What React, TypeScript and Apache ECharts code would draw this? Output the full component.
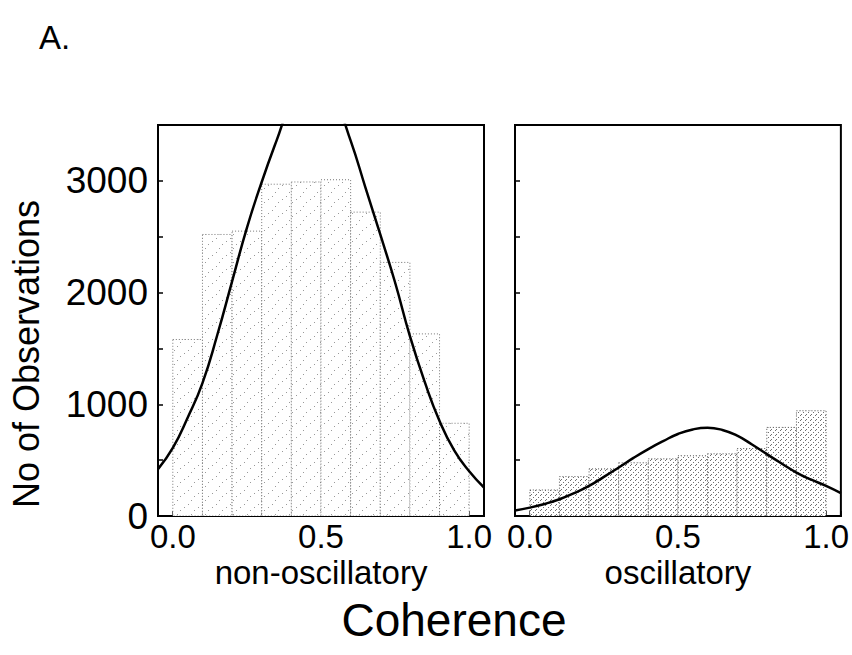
import React, { useEffect, useRef } from "react";
import * as echarts from "echarts";

// ---- data ----
const binEdges = [0, 0.1, 0.2, 0.3, 0.4, 0.5, 0.6, 0.7, 0.8, 0.9, 1.0];
const nonOscCounts = [1580, 2520, 2550, 2970, 2990, 3010, 2720, 2270, 1630, 830];
const oscCounts = [233, 353, 422, 476, 512, 539, 557, 604, 793, 942];

const fitX = [-0.05, 0, 0.05, 0.1, 0.15, 0.2, 0.25, 0.3, 0.35, 0.4, 0.45, 0.5, 0.55, 0.6, 0.65, 0.7, 0.75, 0.8, 0.85, 0.9, 0.95, 1.0, 1.05];
const nonOscFit = [420, 610, 880, 1190, 1620, 2100, 2580, 2990, 3360, 3700, 3880, 3880, 3700, 3360, 2940, 2520, 2090, 1610, 1200, 850, 585, 400, 255];
const oscFit = [50, 75, 108, 150, 205, 269, 350, 434, 520, 599, 670, 734, 775, 790, 770, 719, 640, 554, 470, 389, 325, 269, 204];

const xTickValues = [0, 0.5, 1.0];
const xTickLabels = ["0.0", "0.5", "1.0"];
const yTickValues = [0, 1000, 2000, 3000];
const yTickLabels = ["0", "1000", "2000", "3000"];

const panelNames = ["non-oscillatory", "oscillatory"];
const FONT = "'Liberation Sans', Arial, sans-serif";

function makePattern(size: number, dots: number[][], color: string): string {
  const c = document.createElement("canvas");
  c.width = size;
  c.height = size;
  const ctx = c.getContext("2d")!;
  ctx.fillStyle = "#ffffff";
  ctx.fillRect(0, 0, size, size);
  ctx.fillStyle = color;
  dots.forEach(([x, y]) => ctx.fillRect(x, y, 1, 1));
  return c.toDataURL();
}

export default function App() {
  const ref = useRef<HTMLDivElement>(null);
  useEffect(() => {
    if (!ref.current) return;
    const chart = echarts.init(ref.current, undefined, { renderer: "svg" });

    const sparse = makePattern(14, [[2, 3], [9, 10], [6, 0], [12, 6]], "#9a9a9a");
    const dense = makePattern(5, [[0, 0], [3, 2], [1, 4]], "#707070");

    const binData = (counts: number[]) =>
      counts.map((c, i) => [binEdges[i], binEdges[i + 1], c]);

    const makeRender = (img: string, stroke: string) => (params: any, api: any) => {
      const x0 = api.value(0);
      const x1 = api.value(1);
      const v = api.value(2);
      const p0 = api.coord([x0, v]);
      const p1 = api.coord([x1, 0]);
      return {
        type: "rect",
        shape: { x: p0[0], y: p0[1], width: p1[0] - p0[0], height: p1[1] - p0[1] },
        style: {
          fill: { image: img, repeat: "repeat" },
          stroke,
          lineWidth: 1,
          lineDash: [1, 2],
        },
      };
    };

    const xLabelFmt = (v: number) => {
      const i = xTickValues.findIndex((t) => Math.abs(t - v) < 1e-6);
      return i >= 0 ? xTickLabels[i] : "";
    };
    const yLabelFmt = (v: number) => {
      const i = yTickValues.findIndex((t) => Math.abs(t - v) < 1e-6);
      return i >= 0 ? yTickLabels[i] : "";
    };

    const grids = [
      { left: 158, top: 125, width: 326, height: 391 },
      { left: 515, top: 125, width: 326, height: 391 },
    ];

    const xAxes = [0, 1].map((i) => ({
      type: "value",
      gridIndex: i,
      min: -0.05,
      max: 1.05,
      interval: 0.05,
      name: panelNames[i],
      nameLocation: "middle",
      nameGap: 40,
      nameMoveOverlap: false,
      nameTextStyle: { fontFamily: FONT, fontSize: 33, color: "#000", verticalAlign: "top" },
      axisLine: { show: true, onZero: false, lineStyle: { color: "#000", width: 2 } },
      axisTick: { show: true, inside: true, length: 5, lineStyle: { color: "#000", width: 1.5 } },
      axisLabel: { show: true, formatter: xLabelFmt, fontFamily: FONT, fontSize: 33, color: "#000", margin: 4, showMinLabel: true, showMaxLabel: true },
      splitLine: { show: false },
    }));

    const yAxes = [0, 1].map((i) => ({
      type: "value",
      gridIndex: i,
      min: 0,
      max: 3500,
      interval: 500,
      axisLine: { show: true, onZero: false, lineStyle: { color: "#000", width: 2 } },
      axisTick: { show: true, inside: true, length: 5, lineStyle: { color: "#000", width: 1.5 } },
      axisLabel: { show: i === 0, formatter: yLabelFmt, fontFamily: FONT, fontSize: 37, color: "#000", margin: 10 },
      splitLine: { show: false },
    }));

    const fitLine = (vals: number[]) => fitX.map((x, i) => [x, vals[i]]);

    chart.setOption({
      animation: false,
      backgroundColor: "#fff",
      title: {
        text: "A.",
        left: 34,
        top: 16,
        textStyle: { fontFamily: FONT, fontSize: 33, fontWeight: "normal", color: "#000" },
      },
      grid: grids.map((g) => ({ ...g, show: true, borderColor: "#000", borderWidth: 2, backgroundColor: "transparent" })),
      xAxis: xAxes,
      yAxis: yAxes,
      series: [
        {
          type: "custom",
          xAxisIndex: 0,
          yAxisIndex: 0,
          data: binData(nonOscCounts),
          encode: { x: [0, 1], y: 2 },
          renderItem: makeRender(sparse, "#777"),
          clip: true,
          z: 1,
        },
        {
          type: "custom",
          xAxisIndex: 1,
          yAxisIndex: 1,
          data: binData(oscCounts),
          encode: { x: [0, 1], y: 2 },
          renderItem: makeRender(dense, "#555"),
          clip: true,
          z: 1,
        },
        {
          type: "line",
          xAxisIndex: 0,
          yAxisIndex: 0,
          data: fitLine(nonOscFit),
          smooth: true,
          showSymbol: false,
          symbol: "none",
          clip: true,
          lineStyle: { color: "#000", width: 2.5 },
          z: 3,
        },
        {
          type: "line",
          xAxisIndex: 1,
          yAxisIndex: 1,
          data: fitLine(oscFit),
          smooth: true,
          showSymbol: false,
          symbol: "none",
          clip: true,
          lineStyle: { color: "#000", width: 2.5 },
          z: 3,
        },
      ],
      graphic: [
        {
          type: "text",
          x: 26,
          y: 354,
          rotation: Math.PI / 2,
          style: {
            text: "No of Observations",
            fontFamily: FONT,
            fontSize: 36,
            fill: "#000",
            align: "center",
            verticalAlign: "middle",
          },
        },
        {
          type: "text",
          x: 454,
          y: 620,
          style: {
            text: "Coherence",
            fontFamily: FONT,
            fontSize: 46,
            fill: "#000",
            align: "center",
            verticalAlign: "middle",
          },
        },
      ],
    });
    return () => chart.dispose();
  }, []);
  return <div ref={ref} style={{ position: "fixed", left: 0, top: 0, width: 852, height: 655, background: "#fff" }} />;
}
